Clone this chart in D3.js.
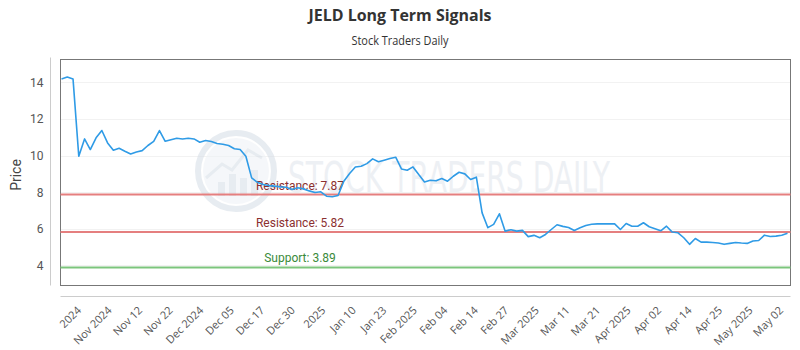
<!DOCTYPE html>
<html>
<head>
<meta charset="utf-8">
<script src="https://cdn.jsdelivr.net/npm/d3@7"></script>
<style>
  body { margin: 0; background: #fff; }
  svg { display: block; }
</style>
</head>
<body>
<div id="chart"></div>
<script>
// closing prices, one per trading day
const prices = [
  14.19, 14.29, 14.19, 9.96, 10.91, 10.33, 10.97, 11.37, 10.69, 10.29,
  10.40, 10.24, 10.09, 10.20, 10.27, 10.55, 10.78, 11.37, 10.78, 10.87,
  10.95, 10.91, 10.95, 10.91, 10.73, 10.82, 10.77, 10.66, 10.62, 10.55,
  10.37, 10.33, 9.96, 8.78, 8.54, 8.42, 8.36, 8.33, 8.29, 8.27,
  8.15, 8.24, 8.18, 8.07, 7.98, 8.02, 7.78, 7.75, 7.82, 8.60,
  9.02, 9.38, 9.42, 9.56, 9.82, 9.66, 9.75, 9.84, 9.91, 9.27,
  9.20, 9.38, 8.96, 8.56, 8.65, 8.62, 8.75, 8.60, 8.87, 9.09,
  9.00, 8.69, 8.82, 6.87, 6.06, 6.24, 6.82, 5.87, 5.95, 5.87,
  5.91, 5.57, 5.64, 5.51, 5.69, 5.96, 6.22, 6.13, 6.07, 5.91,
  6.06, 6.18, 6.25, 6.27, 6.27, 6.27, 6.27, 5.96, 6.29, 6.14,
  6.14, 6.33, 6.11, 6.00, 5.89, 6.14, 5.82, 5.78, 5.51, 5.15,
  5.47, 5.27, 5.27, 5.25, 5.22, 5.15, 5.20, 5.25, 5.22, 5.20,
  5.33, 5.36, 5.65, 5.58, 5.60, 5.65, 5.76
];

const xLabels = [
  "2024", "Nov 2024", "Nov 12", "Nov 22", "Dec 2024", "Dec 05", "Dec 17",
  "Dec 30", "2025", "Jan 10", "Jan 23", "Feb 2025", "Feb 04", "Feb 14",
  "Feb 27", "Mar 2025", "Mar 11", "Mar 21", "Apr 2025", "Apr 02", "Apr 14",
  "Apr 25", "May 2025", "May 02"
];

const yTicks = [4, 6, 8, 10, 12, 14];

const levels = [
  { label: "Resistance: 7.87", value: 7.87, kind: "res" },
  { label: "Resistance: 5.82", value: 5.82, kind: "res" },
  { label: "Support: 3.89", value: 3.89, kind: "sup" }
];

const width = 800, height = 350;
const plot = { left: 60.5, right: 790.5, top: 59.5, bottom: 285.5 };

const svg = d3.select("#chart").append("svg")
  .attr("width", width)
  .attr("height", height);

const x = d3.scaleLinear()
  .domain([0, prices.length - 1])
  .range([plot.left + 1, plot.right - 3]);

const y = d3.scaleLinear()
  .domain([2.9, 15.25])
  .range([plot.bottom, plot.top]);

// titles
svg.append("text")
  .attr("x", width / 2).attr("y", 21)
  .attr("text-anchor", "middle")
  .style("font-family", "'Open Sans', sans-serif")
  .style("font-weight", "bold")
  .style("font-size", "16px")
  .style("fill", "#333")
  .attr("textLength", 183).attr("lengthAdjust", "spacingAndGlyphs")
  .text("JELD Long Term Signals");

svg.append("text")
  .attr("x", width / 2).attr("y", 45)
  .attr("text-anchor", "middle")
  .style("font-family", "'Open Sans', sans-serif")
  .style("font-size", "12px")
  .style("fill", "#333")
  .attr("textLength", 97).attr("lengthAdjust", "spacingAndGlyphs")
  .text("Stock Traders Daily");

// gridlines
svg.append("g")
  .selectAll("line")
  .data(yTicks)
  .join("line")
  .attr("x1", plot.left).attr("x2", plot.right)
  .attr("y1", d => Math.round(y(d)) + 0.5)
  .attr("y2", d => Math.round(y(d)) + 0.5)
  .attr("stroke", "#f2f2f2");

// watermark
const wm = svg.append("g").attr("opacity", 0.55);
wm.append("circle")
  .attr("cx", 236).attr("cy", 171).attr("r", 38)
  .attr("fill", "none").attr("stroke", "#d5dde6").attr("stroke-width", 6);
wm.append("circle")
  .attr("cx", 236).attr("cy", 171).attr("r", 33)
  .attr("fill", "#eef2f6");
[[-18, 14], [-7, 22], [4, 18], [15, 26]].forEach(([dx, h]) => {
  wm.append("rect")
    .attr("x", 236 + dx).attr("y", 196 - h)
    .attr("width", 7).attr("height", h)
    .attr("fill", "#d5dde6");
});
wm.append("path")
  .attr("d", "M206,178 L222,164 L232,170 L248,150 L262,158")
  .attr("fill", "none").attr("stroke", "#d5dde6").attr("stroke-width", 3);
wm.append("text")
  .attr("x", 288).attr("y", 192)
  .style("font-family", "'DejaVu Sans Condensed', 'Open Sans', sans-serif")
  .style("font-size", "42px")
  .style("fill", "#dfe5ec")
  .attr("textLength", 322).attr("lengthAdjust", "spacingAndGlyphs")
  .text("STOCK TRADERS DAILY");

// plot frame
svg.append("rect")
  .attr("x", plot.left).attr("y", plot.top)
  .attr("width", plot.right - plot.left)
  .attr("height", plot.bottom - plot.top)
  .attr("fill", "none").attr("stroke", "#777");

// y axis (offset to the left of the frame)
const yAxis = svg.append("g")
  .attr("transform", `translate(50.5,0)`)
  .call(d3.axisLeft(y).tickValues(yTicks).tickSize(0).tickPadding(7));
yAxis.select(".domain")
  .attr("d", `M0,${plot.top - 2}V${plot.bottom}`)
  .attr("stroke", "#ccc");
yAxis.selectAll("text")
  .style("font-family", "Roboto, sans-serif")
  .style("font-size", "12px")
  .style("fill", "#555");

svg.append("text")
  .attr("transform", `translate(21,175) rotate(-90)`)
  .attr("text-anchor", "middle")
  .style("font-family", "Roboto, sans-serif")
  .style("font-size", "14px")
  .style("fill", "#444")
  .text("Price");

// x axis (offset below the frame)
svg.append("line")
  .attr("x1", plot.left).attr("x2", plot.right)
  .attr("y1", 296.5).attr("y2", 296.5)
  .attr("stroke", "#ccc");

const xl = d3.scalePoint()
  .domain(xLabels)
  .range([82, 784]);

svg.append("g")
  .selectAll("text")
  .data(xLabels)
  .join("text")
  .attr("transform", d => `translate(${xl(d)},311) rotate(-45)`)
  .attr("text-anchor", "end")
  .style("font-family", "'Open Sans', sans-serif")
  .style("font-size", "11px")
  .style("fill", "#555")
  .text(d => d);

// support / resistance lines
const lv = svg.append("g");
lv.selectAll("line")
  .data(levels)
  .join("line")
  .attr("x1", plot.left).attr("x2", plot.right)
  .attr("y1", d => y(d.value)).attr("y2", d => y(d.value))
  .attr("stroke", d => d.kind === "res" ? "#e57f7f" : "#7cc57c")
  .attr("stroke-width", 2);

// price line
svg.append("path")
  .datum(prices)
  .attr("fill", "none")
  .attr("stroke", "#2f9be6")
  .attr("stroke-width", 1.6)
  .attr("stroke-linejoin", "round")
  .attr("d", d3.line().x((d, i) => x(i)).y(d => y(d)));

lv.selectAll("text")
  .data(levels)
  .join("text")
  .attr("x", 300)
  .attr("y", d => y(d.value) - 5)
  .attr("text-anchor", "middle")
  .style("font-family", "Roboto, sans-serif")
  .style("font-size", "12px")
  .style("fill", d => d.kind === "res" ? "#8b3030" : "#3a8a3a")
  .text(d => d.label);
</script>
</body>
</html>
